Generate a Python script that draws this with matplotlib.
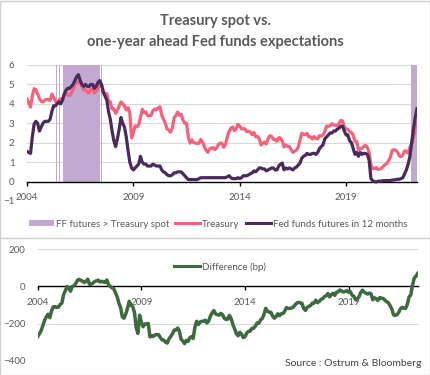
import numpy as np
import pandas as pd
import matplotlib
matplotlib.use("Agg")
from matplotlib import pyplot as plt
from matplotlib.patches import Patch, Rectangle
from matplotlib.lines import Line2D

# monthly observations, Jan 2004 -> May 2022
dates = pd.date_range("2004-01-01", "2022-05-01", freq="MS")

treasury = [
    4.25, 4.05, 3.83, 4.40, 4.78, 4.73, 4.50, 4.28, 4.13, 4.10, 4.19, 4.23,  # 2004
    4.22, 4.17, 4.50, 4.34, 4.14, 4.00, 4.18, 4.26, 4.20, 4.46, 4.54, 4.47,  # 2005
    4.42, 4.57, 4.72, 4.99, 5.11, 5.11, 5.09, 4.88, 4.72, 4.73, 4.60, 4.56,  # 2006
    4.76, 4.72, 4.56, 4.69, 4.75, 5.10, 5.00, 4.67, 4.52, 4.53, 4.15, 4.10,  # 2007
    3.74, 3.74, 3.51, 3.68, 3.88, 4.10, 4.01, 3.89, 3.69, 3.81, 3.53, 2.25,  # 2008
    2.52, 2.87, 2.82, 2.93, 3.29, 3.72, 3.56, 3.59, 3.40, 3.39, 3.40, 3.65,  # 2009
    3.73, 3.69, 3.80, 3.85, 3.42, 3.20, 3.01, 2.70, 2.65, 2.54, 2.76, 3.29,  # 2010
    3.39, 3.58, 3.41, 3.46, 3.17, 3.00, 3.00, 2.30, 1.98, 2.15, 2.01, 1.98,  # 2011
    1.97, 1.97, 2.17, 2.05, 1.80, 1.62, 1.50, 1.68, 1.72, 1.75, 1.65, 1.72,  # 2012
    1.91, 1.98, 1.96, 1.76, 1.93, 2.30, 2.58, 2.74, 2.81, 2.62, 2.72, 2.95,  # 2013
    2.86, 2.71, 2.72, 2.71, 2.56, 2.60, 2.54, 2.42, 2.53, 2.30, 2.33, 2.21,  # 2014
    1.88, 1.98, 2.04, 1.94, 2.20, 2.36, 2.32, 2.17, 2.17, 2.07, 2.26, 2.24,  # 2015
    2.09, 1.78, 1.89, 1.81, 1.81, 1.64, 1.50, 1.56, 1.63, 1.76, 2.14, 2.49,  # 2016
    2.43, 2.42, 2.48, 2.30, 2.30, 2.19, 2.32, 2.21, 2.20, 2.36, 2.35, 2.40,  # 2017
    2.58, 2.86, 2.84, 2.87, 2.98, 2.91, 2.89, 2.89, 3.00, 3.15, 3.12, 2.83,  # 2018
    2.71, 2.68, 2.57, 2.53, 2.40, 2.07, 2.06, 1.63, 1.70, 1.71, 1.81, 1.86,  # 2019
    1.76, 1.50, 0.87, 0.66, 0.67, 0.73, 0.62, 0.65, 0.68, 0.79, 0.87, 0.93,  # 2020
    1.08, 1.26, 1.61, 1.64, 1.62, 1.52, 1.32, 1.28, 1.37, 1.58, 1.56, 1.47,  # 2021
    1.76, 1.93, 2.25, 2.75, 3.05,                                            # 2022
]

fed_funds_12m = [
    1.55, 1.50, 1.45, 2.30, 2.95, 3.10, 3.00, 2.60, 2.80, 3.00, 3.10, 3.10,  # 2004
    3.10, 3.20, 3.60, 3.90, 3.90, 4.00, 4.10, 4.00, 4.20, 4.50, 4.70, 4.80,  # 2005
    4.80, 4.90, 5.00, 5.20, 5.40, 5.50, 5.20, 5.00, 4.90, 5.00, 4.90, 4.90,  # 2006
    5.00, 5.00, 4.80, 4.90, 5.10, 5.20, 5.00, 4.60, 4.40, 4.20, 3.60, 3.20,  # 2007
    2.60, 2.10, 1.80, 2.20, 2.70, 3.30, 3.00, 2.80, 2.30, 1.60, 1.00, 0.70,  # 2008
    0.60, 0.70, 0.80, 0.90, 1.30, 1.00, 0.90, 0.90, 0.80, 0.80, 0.80, 0.90,  # 2009
    0.85, 0.80, 0.80, 0.80, 0.60, 0.50, 0.45, 0.35, 0.30, 0.30, 0.35, 0.45,  # 2010
    0.45, 0.50, 0.50, 0.50, 0.40, 0.30, 0.20, 0.10, 0.10, 0.10, 0.10, 0.10,  # 2011
    0.10, 0.15, 0.20, 0.20, 0.20, 0.20, 0.20, 0.20, 0.20, 0.20, 0.20, 0.20,  # 2012
    0.20, 0.20, 0.20, 0.20, 0.20, 0.25, 0.30, 0.20, 0.15, 0.15, 0.15, 0.20,  # 2013
    0.15, 0.20, 0.30, 0.30, 0.30, 0.35, 0.40, 0.45, 0.55, 0.50, 0.60, 0.70,  # 2014
    0.70, 0.65, 0.65, 0.55, 0.60, 0.65, 0.70, 0.70, 0.60, 0.60, 0.80, 0.90,  # 2015
    0.95, 0.60, 0.70, 0.65, 0.70, 0.65, 0.60, 0.70, 0.75, 0.85, 0.95, 1.20,  # 2016
    1.30, 1.35, 1.45, 1.40, 1.40, 1.45, 1.45, 1.40, 1.50, 1.70, 1.80, 1.90,  # 2017
    2.20, 2.30, 2.40, 2.50, 2.50, 2.60, 2.60, 2.70, 2.75, 2.85, 2.85, 2.60,  # 2018
    2.40, 2.40, 2.10, 2.00, 1.70, 1.40, 1.50, 1.30, 1.50, 1.40, 1.45, 1.45,  # 2019
    1.40, 1.10, 0.15, 0.05, 0.00, -0.02, 0.02, 0.02, 0.03, 0.05, 0.05, 0.05,  # 2020
    0.05, 0.05, 0.08, 0.08, 0.10, 0.12, 0.12, 0.15, 0.20, 0.40, 0.60, 0.90,  # 2021
    1.30, 2.00, 2.70, 3.30, 3.75,                                            # 2022
]

# periods where FF futures > Treasury spot (decimal years)
shade_start = [2005.37, 2005.50, 2005.70, 2007.48, 2022.06]
shade_end = [2005.41, 2005.54, 2007.45, 2007.52, 2022.34]

tick_years = [2004, 2009, 2014, 2019]

x = dates.year + (dates.month - 1) / 12
treasury = np.array(treasury)
fed_funds_12m = np.array(fed_funds_12m)
difference = (fed_funds_12m - treasury) * 100

c_treasury = "#f5627a"
c_ff = "#4a2a5c"
c_shade = "#c1a9d1"
c_diff = "#3e6a3f"
c_text = "#595959"
c_grid = "#d9d9d9"

plt.rcParams["font.family"] = ["Lato", "DejaVu Sans"]

W, H = 431, 375
fig = plt.figure(figsize=(W / 100, H / 100), dpi=100)

# chart frames
fig.patches.append(Rectangle((0.5 / W, 0.5 / H), (W - 1) / W, (H - 1) / H,
                             transform=fig.transFigure, fill=False,
                             edgecolor="#d0d0d0", linewidth=1))
fig.lines.append(Line2D([0, 1], [1 - 238 / H, 1 - 238 / H],
                        transform=fig.transFigure, color="#d0d0d0", linewidth=1))

fig.text(0.5, 1 - 21 / H, "Treasury spot vs.", ha="center", va="center",
         fontsize=10.5, fontweight="bold", color=c_text)
fig.text(0.5, 1 - 42 / H, "one-year ahead Fed funds expectations", ha="center",
         va="center", fontsize=10.5, fontweight="bold", color=c_text)


def style_axis(ax, yticks):
    for s in ["top", "right", "left"]:
        ax.spines[s].set_visible(False)
    ax.spines["bottom"].set_position(("data", 0))
    ax.spines["bottom"].set_color("black")
    ax.spines["bottom"].set_linewidth(1)
    ax.set_xticks(tick_years)
    ax.set_xticklabels([str(t) for t in tick_years])
    ax.tick_params(axis="x", direction="out", length=3, width=1, pad=5,
                   labelsize=7, labelcolor=c_text)
    ax.set_yticks(yticks)
    ax.tick_params(axis="y", length=0, pad=9, labelsize=7, labelcolor=c_text)
    for v in yticks:
        if v != 0:
            ax.axhline(v, color=c_grid, linewidth=0.8, zorder=0)
    ax.set_xlim(2004, x[-1])


# top chart
ax1 = fig.add_axes([27 / W, 1 - 201 / H, 390 / W, 136 / H])
ax1.set_ylim(-1, 6)
style_axis(ax1, [-1, 0, 1, 2, 3, 4, 5, 6])
for a, b in zip(shade_start, shade_end):
    ax1.axvspan(a, b, ymin=1 / 7, ymax=1, color=c_shade, linewidth=0, zorder=1)
ax1.plot(x, treasury, color=c_treasury, linewidth=2.3, zorder=3)
ax1.plot(x, fed_funds_12m, color=c_ff, linewidth=2.3, zorder=4)

handles = [Patch(facecolor=c_shade, edgecolor="none"),
           Line2D([], [], color=c_treasury, linewidth=2.2),
           Line2D([], [], color=c_ff, linewidth=2.2)]
labels = ["FF futures > Treasury spot", "Treasury", "Fed funds futures in 12 months"]
fig.legend(handles, labels, loc="center", bbox_to_anchor=(218 / W, 1 - 224 / H),
           ncol=3, frameon=False, fontsize=7, labelcolor=c_text,
           handlelength=2.6, handleheight=0.6, handletextpad=0.2,
           columnspacing=0.6)

# bottom chart
ax2 = fig.add_axes([37.7 / W, 1 - 360.7 / H, 380 / W, 111.4 / H])
ax2.set_ylim(-400, 200)
style_axis(ax2, [-400, -200, 0, 200])
ax2.plot(x, difference, color=c_diff, linewidth=2.5, zorder=3)
fig.legend([Line2D([], [], color=c_diff, linewidth=2.2)], ["Difference (bp)"],
           loc="center", bbox_to_anchor=(220 / W, 1 - 267 / H), frameon=False,
           fontsize=7, labelcolor=c_text, handlelength=2.6, handletextpad=0.2)

fig.text(422 / W, 1 - 363 / H, "Source : Ostrum & Bloomberg", ha="right",
         va="center", fontsize=7.5, color="#404040")

fig.savefig("out.png", dpi=100)
